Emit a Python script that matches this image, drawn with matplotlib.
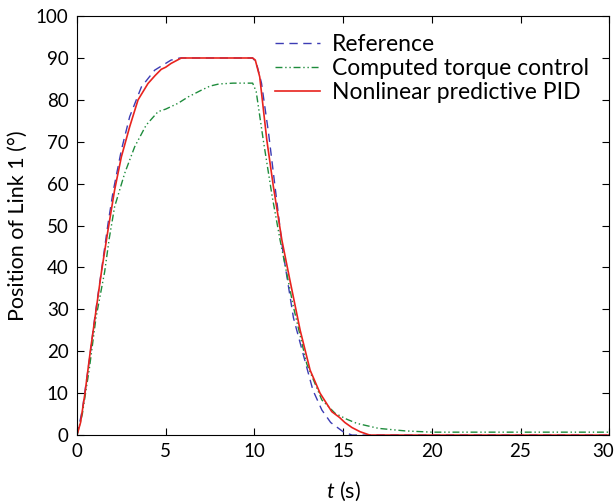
import matplotlib
matplotlib.use("Agg")
import matplotlib.pyplot as plt
import matplotlib.transforms as mtransforms

plt.rcParams['font.family'] = ['Lato', 'DejaVu Sans']
plt.rcParams['mathtext.fontset'] = 'custom'
plt.rcParams['mathtext.it'] = 'Lato:italic'
plt.rcParams['mathtext.rm'] = 'Lato'

# reference trajectory
t_ref = [0, 0.3, 0.7, 1.0, 1.37, 1.75, 2.03, 2.5, 2.97, 3.63, 4.38, 5.3, 5.8, 7.0, 9.9,
         10.1, 10.4, 10.8, 11.2, 11.6, 12.2, 12.8, 13.3, 13.8, 14.3, 15.0, 15.5, 20, 30]
y_ref = [0, 6, 18, 28, 39, 50.5, 58, 68, 76, 83.1, 87.1, 89.5, 90, 90, 90,
         89, 84, 72, 58, 44, 28, 18.5, 10.7, 6, 3, 0.8, 0, 0, 0]

# computed torque control
t_ctc = [0, 0.3, 0.7, 1.07, 1.56, 1.82, 2.12, 2.69, 3.25, 3.9, 4.57, 5.0, 5.7, 6.26, 7.0, 7.5,
         8.0, 8.8, 9.9, 10.1, 10.5, 11.0, 11.45, 12.2, 12.95, 13.8, 14.55, 15.2, 15.77, 17.0, 18.5, 20, 30]
y_ctc = [0, 5, 16, 28, 39, 47, 54.5, 62.5, 68.8, 74, 77.2, 77.8, 79.2, 80.7, 82.3, 83.3,
         83.8, 84, 84, 82, 70.4, 57, 46.5, 30.6, 17, 8.4, 5.2, 3.8, 2.8, 1.6, 1.0, 0.7, 0.7]

# nonlinear predictive PID
t_pid = [0, 0.2, 0.45, 0.75, 1.08, 1.38, 1.75, 2.12, 2.5, 2.97, 3.44, 4.0, 4.4, 4.75, 5.0, 5.3, 5.88,
         9.9, 10.05, 10.3, 10.7, 11.07, 11.55, 12.0, 12.58, 13.14, 13.7, 14.36, 14.8, 15.1, 15.5,
         15.96, 16.5, 20, 30]
y_pid = [0, 3, 10, 20, 30, 39, 49, 58.5, 66.4, 73.6, 80, 83.9, 85.8, 87.3, 87.8, 88.7, 90,
         90, 89.5, 85.5, 70.4, 59.3, 46.5, 37, 25, 15.5, 10, 5.6, 4.2, 3, 1.8,
         0.8, 0, 0, 0]

fig = plt.figure(figsize=(6.16, 5.03), dpi=100)
ax = fig.add_axes([0.125, 0.135, 0.864, 0.833])

ax.plot(t_ref, y_ref, color='#3c3cb4', lw=1.0, dashes=(6, 4), label='Reference')
ax.plot(t_ctc, y_ctc, color='#1e8c3c', lw=1.0, dashes=(5, 2, 1, 2, 1, 2), label='Computed torque control')
ax.plot(t_pid, y_pid, color='#e8231e', lw=1.2, label='Nonlinear predictive PID')

ax.set_xlim(0, 30)
ax.set_ylim(0, 100)
ax.set_xticks(range(0, 31, 5))
ax.set_yticks(range(0, 101, 10))
ax.tick_params(direction='in', top=True, right=True, length=5, labelsize=13.5, pad=6)
ax.set_xlabel(r'$t$ (s)', fontsize=15.5, labelpad=14)
ax.set_ylabel('Position of Link 1 (°)', fontsize=15.5, labelpad=6)

# nudge the last x tick label so it stays inside the figure
last = ax.get_xticklabels()[-1]
last.set_transform(last.get_transform() + mtransforms.ScaledTranslation(-6 / 100, 0, fig.dpi_scale_trans))

ax.legend(loc='upper left', bbox_to_anchor=(0.372, 0.958), frameon=False, fontsize=16.5,
          handlelength=1.95, handletextpad=0.55, labelspacing=0.13, borderpad=0, borderaxespad=0)

fig.savefig('out.png', dpi=100)
